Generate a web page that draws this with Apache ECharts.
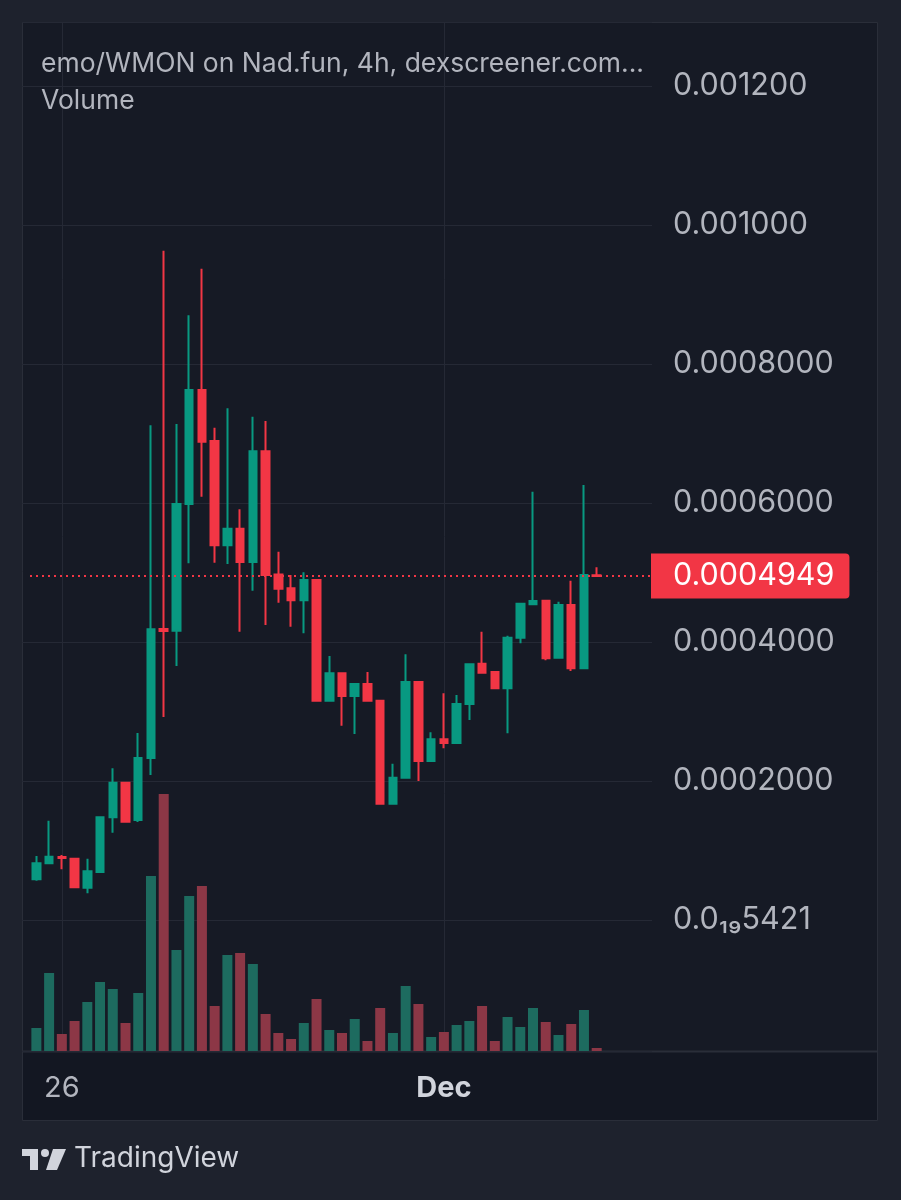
<!DOCTYPE html>
<html>
<head>
<meta charset="utf-8">
<script src="https://cdn.jsdelivr.net/npm/echarts@6/dist/echarts.min.js"></script>
<style>
html,body{margin:0;padding:0;background:#1e222d;}
#c{width:901px;height:1200px;}
</style>
</head>
<body>
<div id="c"></div>
<script>
// ---- data (4h candles, emo/WMON) ----
const categories = [
  '11-25 16:00','11-25 20:00',
  '11-26 00:00','11-26 04:00','11-26 08:00','11-26 12:00','11-26 16:00','11-26 20:00',
  '11-27 00:00','11-27 04:00','11-27 08:00','11-27 12:00','11-27 16:00','11-27 20:00',
  '11-28 00:00','11-28 04:00','11-28 08:00','11-28 12:00','11-28 16:00','11-28 20:00',
  '11-29 00:00','11-29 04:00','11-29 08:00','11-29 12:00','11-29 16:00','11-29 20:00',
  '11-30 00:00','11-30 04:00','11-30 08:00','11-30 12:00','11-30 16:00','11-30 20:00',
  '12-01 00:00','12-01 04:00','12-01 08:00','12-01 12:00','12-01 16:00','12-01 20:00',
  '12-02 00:00','12-02 04:00','12-02 08:00','12-02 12:00','12-02 16:00','12-02 20:00',
  '12-03 00:00'
];
const futureSlots = ['', '', '', ''];

const opens = [
  0.0000586, 0.0000816, 0.0000906, 0.0000882, 0.0000465, 0.0000691, 0.0001478, 0.0001976, 0.0001439, 0.0002331,
  0.0004187, 0.0004163, 0.0005986, 0.0007626, 0.0006892, 0.0005391, 0.0005630, 0.0005151, 0.0006744, 0.0004970,
  0.0004772, 0.0004600, 0.0004892, 0.0003155, 0.0003550, 0.0003223, 0.0003396, 0.0003155, 0.0001673, 0.0002047,
  0.0003424, 0.0002288, 0.0002600, 0.0002547, 0.0003108, 0.0003688, 0.0003568, 0.0003334, 0.0004062, 0.0004542,
  0.0004594, 0.0003774, 0.0004532, 0.0003622, 0.0004960
];
const closes = [
  0.0000816, 0.0000911, 0.0000892, 0.0000470, 0.0000701, 0.0001478, 0.0001976, 0.0001414, 0.0002331, 0.0004183,
  0.0004158, 0.0005986, 0.0007626, 0.0006882, 0.0005391, 0.0005630, 0.0005151, 0.0006744, 0.0004964, 0.0004767,
  0.0004600, 0.0004892, 0.0003155, 0.0003550, 0.0003223, 0.0003396, 0.0003155, 0.0001673, 0.0002047, 0.0003424,
  0.0002288, 0.0002600, 0.0002547, 0.0003108, 0.0003679, 0.0003558, 0.0003334, 0.0004062, 0.0004551, 0.0004590,
  0.0003765, 0.0004532, 0.0003622, 0.0004964, 0.0004949
];
const highs = [
  0.0000921, 0.0001429, 0.0000935, 0.0000885, 0.0000882, 0.0001480, 0.0002183, 0.0001980, 0.0002691, 0.0007118,
  0.0009630, 0.0007137, 0.0008701, 0.0009371, 0.0007084, 0.0007363, 0.0005909, 0.0007242, 0.0007180, 0.0005299,
  0.0004964, 0.0005003, 0.0004900, 0.0003799, 0.0003555, 0.0003400, 0.0003568, 0.0003160, 0.0002249, 0.0003823,
  0.0003428, 0.0002701, 0.0003262, 0.0003237, 0.0003684, 0.0004148, 0.0003570, 0.0004091, 0.0004560, 0.0006163,
  0.0004600, 0.0004580, 0.0004882, 0.0006259, 0.0005075
];
const lows = [
  0.0000565, 0.0000813, 0.0000729, 0.0000465, 0.0000384, 0.0000689, 0.0001256, 0.0001405, 0.0001410, 0.0002086,
  0.0002921, 0.0003655, 0.0005132, 0.0006091, 0.0005141, 0.0005122, 0.0004148, 0.0004738, 0.0004245, 0.0004565,
  0.0004220, 0.0004125, 0.0003150, 0.0003150, 0.0002796, 0.0002676, 0.0003150, 0.0001668, 0.0001668, 0.0002035,
  0.0002000, 0.0002283, 0.0002471, 0.0002545, 0.0002878, 0.0003555, 0.0003330, 0.0002686, 0.0003981, 0.0004535,
  0.0003737, 0.0003770, 0.0003583, 0.0003620, 0.0004945
];
// relative volume (arbitrary units)
const volumes = [
  23, 78, 17, 30, 49, 69, 62, 28, 58, 175,
  257, 101, 155, 165, 45, 96, 98, 87, 37, 18,
  12, 28, 52, 21, 18, 32, 10, 43, 18, 65,
  47, 14, 19, 26, 30, 45, 10, 34, 24, 43,
  29, 16, 27, 41, 3
];
const tickLabelIndex = [2, 32];
const tickLabelText = ['26', 'Dec'];
const zeroLabel = '0.0\u2081\u20895421';
const titleText = 'emo/WMON on Nad.fun, 4h, dexscreener.com...';
const volumeText = 'Volume';

// ---- styling ----
const FONT = 'Inter, "Noto Sans", sans-serif';
const UP = '#089981', DOWN = '#f23645';
const UP_VOL = '#1d6b5f', DOWN_VOL = '#8c3746';
const GRID_LINE = '#252935';
const TXT = '#b2b5be';

const priceMin = -0.00018849, priceMax = 0.00129209;
const volMax = 1029;

const candleData = opens.map((o, i) => [o, closes[i], lows[i], highs[i]]);
const volData = volumes.map((v, i) => ({
  value: v,
  itemStyle: { color: closes[i] >= opens[i] ? UP_VOL : DOWN_VOL }
}));
const lastClose = closes[closes.length - 1];

function fmtPrice(v) {
  if (v < priceMin + 1e-9 || v > priceMax - 1e-9) return '';
  if (Math.abs(v) < 1e-12) return zeroLabel;
  return v >= 0.001 ? v.toFixed(6) : v.toFixed(7);
}

const chart = echarts.init(document.getElementById('c'), null, { renderer: 'canvas' });
const option = {
  backgroundColor: '#1e222d',
  animation: false,
  textStyle: { fontFamily: FONT },
  title: [
    { text: titleText, left: 41, top: 51, padding: 0,
      textStyle: { color: TXT, fontSize: 26.5, fontWeight: 'normal', fontFamily: FONT } },
    { text: volumeText, left: 41, top: 88, padding: 0,
      textStyle: { color: TXT, fontSize: 26.5, fontWeight: 'normal', fontFamily: FONT } }
  ],
  graphic: [
    { type: 'rect', z: -10, silent: true,
      shape: { x: 22.5, y: 22.5, width: 855, height: 1098 },
      style: { fill: '#161a25', stroke: '#2a2e39', lineWidth: 1 } },
    { type: 'rect', z: -9, silent: true,
      shape: { x: 23, y: 1052, width: 854, height: 68 },
      style: { fill: '#131722' } },
    { type: 'line', z: -8, silent: true,
      shape: { x1: 22, y1: 1051.5, x2: 878, y2: 1051.5 },
      style: { stroke: '#2a2e39', lineWidth: 2 } },
    // TradingView logo
    { type: 'rect', z: 10, silent: true, shape: { x: 22, y: 1149, width: 16, height: 7 }, style: { fill: '#d1d4dc' } },
    { type: 'rect', z: 10, silent: true, shape: { x: 30, y: 1149, width: 8, height: 21 }, style: { fill: '#d1d4dc' } },
    { type: 'circle', z: 10, silent: true, shape: { cx: 45, cy: 1153, r: 4 }, style: { fill: '#d1d4dc' } },
    { type: 'polygon', z: 10, silent: true,
      shape: { points: [[53, 1149], [66, 1149], [57, 1170], [46, 1170]] }, style: { fill: '#d1d4dc' } },
    { type: 'text', z: 10, silent: true, x: 74, y: 1159,
      style: { text: 'TradingView', fill: '#d1d4dc', font: '28px ' + FONT, textVerticalAlign: 'middle' } }
  ],
  grid: [
    { left: 30, width: 624, top: 22, height: 1029, outerBoundsMode: 'none' },
    { left: 22, width: 630, top: 22, height: 1029, outerBoundsMode: 'none' }
  ],
  xAxis: [
    { type: 'category', gridIndex: 0, data: categories.concat(futureSlots), boundaryGap: true,
      axisLine: { show: false }, axisTick: { show: false }, splitLine: { show: false },
      axisLabel: {
        interval: 0, margin: 23, color: TXT, fontSize: 29, fontFamily: FONT,
        formatter: function (v, idx) {
          const k = tickLabelIndex.indexOf(idx);
          if (k < 0) return '';
          return k === 1 ? '{b|' + tickLabelText[k] + '}' : tickLabelText[k];
        },
        rich: { b: { fontWeight: 'bold', color: '#d1d4dc', fontSize: 29, fontFamily: FONT } }
      } },
    { type: 'value', gridIndex: 1, min: 0, max: 1, show: false }
  ],
  yAxis: [
    { type: 'value', gridIndex: 0, min: priceMin, max: priceMax, show: false },
    { type: 'value', gridIndex: 0, min: 0, max: volMax, show: false },
    { type: 'value', gridIndex: 1, position: 'right', min: priceMin, max: priceMax,
      splitNumber: 7, minInterval: 0.0002, maxInterval: 0.0002,
      axisLine: { show: false }, axisTick: { show: false },
      splitLine: { show: true, showMinLine: true, showMaxLine: true, lineStyle: { color: GRID_LINE, width: 1 } },
      axisLabel: { showMinLabel: true, showMaxLabel: true, margin: 21, color: TXT, fontSize: 30.5,
        fontFamily: FONT, formatter: fmtPrice } }
  ],
  series: [
    { type: 'bar', name: 'Volume', xAxisIndex: 0, yAxisIndex: 1, data: volData, barWidth: 10, z: 2,
      markLine: { z: 1, silent: true, symbol: 'none', label: { show: false },
        lineStyle: { color: GRID_LINE, width: 1, type: 'solid' },
        data: tickLabelIndex.map(i => ({ xAxis: categories[i] })) } },
    { type: 'candlestick', name: 'emo/WMON', xAxisIndex: 0, yAxisIndex: 0, data: candleData, barWidth: 8, z: 3,
      itemStyle: { color: UP, color0: DOWN, borderColor: UP, borderColor0: DOWN, borderWidth: 2 },
      markLine: { silent: true, symbol: 'none', precision: 7,
        lineStyle: { color: DOWN, width: 2, type: [2, 4] },
        label: { show: true, position: 'end', distance: -3, formatter: lastClose.toFixed(7),
          color: '#ffffff', fontSize: 30.5, fontFamily: FONT, backgroundColor: DOWN,
          padding: [7, 15, 7, 22], borderRadius: [0, 4, 4, 0], lineHeight: 31 },
        data: [{ yAxis: lastClose }] } }
  ]
};
chart.setOption(option);
</script>
</body>
</html>
